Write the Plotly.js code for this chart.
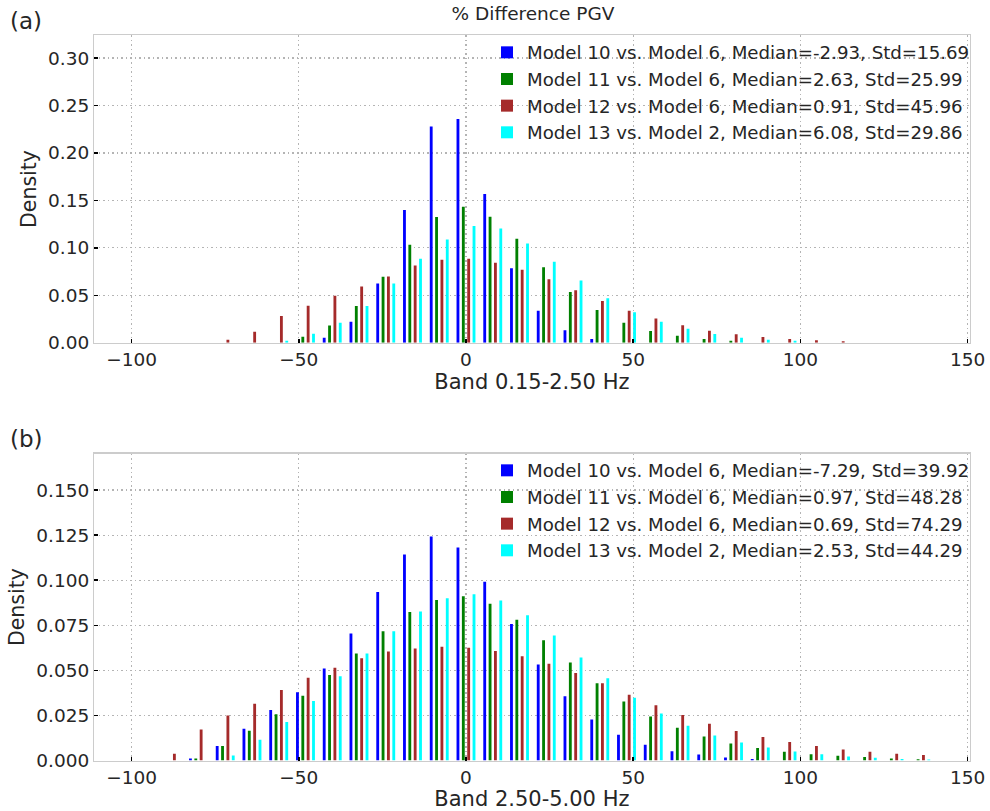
<!DOCTYPE html>
<html>
<head>
<meta charset="utf-8">
<script src="https://cdn.plot.ly/plotly-3.0.1.min.js"></script>
<style>
  html, body { margin: 0; padding: 0; background: #ffffff; }
  #chart { width: 990px; height: 811px; }
</style>
</head>
<body>
<div id="chart"></div>
<script>
// Histogram bin centres (% difference), bin width 8
const binCenters = [-96, -88, -80, -72, -64, -56, -48, -40, -32, -24, -16, -8, 0, 8, 16, 24,
                    32, 40, 48, 56, 64, 72, 80, 88, 96, 104, 112, 120, 128, 136, 144];

// Band 0.15-2.50 Hz densities
const lowM10 = [0, 0, 0, 0, 0, 0, 0, 0.0053, 0.0222, 0.0623, 0.1398, 0.2278, 0.2359, 0.1567, 0.0785, 0.0338,
                0.0130, 0.0039, 0, 0, 0, 0, 0, 0, 0, 0, 0, 0, 0, 0, 0];
const lowM11 = [0, 0, 0, 0, 0, 0, 0.0063, 0.0180, 0.0387, 0.0694, 0.1032, 0.1324, 0.1433, 0.1327, 0.1095, 0.0796,
                0.0535, 0.0345, 0.0211, 0.0123, 0.0074, 0.0039, 0.0020, 0, 0, 0, 0, 0, 0, 0, 0];
const lowM12 = [0, 0, 0, 0.0032, 0.0116, 0.0282, 0.0390, 0.0496, 0.0592, 0.0697, 0.0813, 0.0873, 0.0884, 0.0842, 0.0768, 0.0669,
                0.0553, 0.0440, 0.0338, 0.0254, 0.0183, 0.0127, 0.0088, 0.0060, 0.0039, 0.0025, 0.0014, 0, 0, 0, 0];
const lowM13 = [0, 0, 0, 0, 0, 0.0020, 0.0095, 0.0210, 0.0387, 0.0623, 0.0884, 0.1088, 0.1229, 0.1204, 0.1046, 0.0852,
                0.0655, 0.0468, 0.0320, 0.0222, 0.0148, 0.0092, 0.0053, 0.0032, 0.0020, 0, 0, 0, 0, 0, 0];

// Band 2.50-5.00 Hz densities
const highM10 = [0, 0, 0.0011, 0.0080, 0.0176, 0.0280, 0.0378, 0.0511, 0.0704, 0.0935, 0.1143, 0.1243, 0.1181, 0.0991, 0.0757, 0.0533,
                 0.0356, 0.0228, 0.0143, 0.0087, 0.0052, 0.0033, 0.0017, 0.0009, 0, 0, 0, 0, 0, 0, 0];
const highM11 = [0, 0, 0.0011, 0.0080, 0.0165, 0.0256, 0.0359, 0.0474, 0.0594, 0.0717, 0.0824, 0.0891, 0.0911, 0.0869, 0.0781, 0.0667,
                 0.0543, 0.0428, 0.0328, 0.0244, 0.0181, 0.0133, 0.0094, 0.0069, 0.0048, 0.0035, 0.0026, 0.0019, 0.0011, 0.0007, 0];
const highM12 = [0, 0.0037, 0.0172, 0.0250, 0.0315, 0.0391, 0.0459, 0.0515, 0.0567, 0.0604, 0.0622, 0.0631, 0.0626, 0.0607, 0.0578, 0.0537,
                 0.0485, 0.0428, 0.0365, 0.0306, 0.0252, 0.0204, 0.0163, 0.0130, 0.0102, 0.0080, 0.0061, 0.0048, 0.0037, 0.0030, 0];
const highM13 = [0, 0, 0, 0.0028, 0.0115, 0.0213, 0.0330, 0.0467, 0.0593, 0.0717, 0.0826, 0.0900, 0.0922, 0.0887, 0.0806, 0.0694,
                 0.0572, 0.0456, 0.0348, 0.0261, 0.0193, 0.0139, 0.0100, 0.0072, 0.0050, 0.0035, 0.0022, 0.0015, 0.0009, 0.0006, 0];

const lowLabels = [
  'Model 10 vs. Model 6, Median=-2.93, Std=15.69',
  'Model 11 vs. Model 6, Median=2.63, Std=25.99',
  'Model 12 vs. Model 6, Median=0.91, Std=45.96',
  'Model 13 vs. Model 2, Median=6.08, Std=29.86'
];
const highLabels = [
  'Model 10 vs. Model 6, Median=-7.29, Std=39.92',
  'Model 11 vs. Model 6, Median=0.97, Std=48.28',
  'Model 12 vs. Model 6, Median=0.69, Std=74.29',
  'Model 13 vs. Model 2, Median=2.53, Std=44.29'
];
const seriesColors = ['#0000ff', '#008000', '#a52a2a', '#00ffff'];

const FONT = 'DejaVu Sans, Liberation Sans, sans-serif';
const INK = '#262626';
const GRID = { showgrid: true, gridcolor: '#b4b4b4', gridwidth: 1.3, griddash: '1.5px,3px' };

// Thin bars centred in their group slots (slot = 1.6 units with bargap 0.2)
function panelTraces(series, labels, xa, ya, legendId) {
  return series.map((vals, i) => ({
    type: 'bar',
    x: binCenters,
    y: vals,
    width: 0.85,
    name: labels[i],
    xaxis: xa,
    yaxis: ya,
    legend: legendId,
    marker: { color: seriesColors[i], line: { width: 0 } },
    hoverinfo: 'skip'
  }));
}

const traces = [
  ...panelTraces([lowM10, lowM11, lowM12, lowM13], lowLabels, 'x', 'y', 'legend'),
  ...panelTraces([highM10, highM11, highM12, highM13], highLabels, 'x2', 'y2', 'legend2')
];

const xDomain = [94.3 / 990, 969.5 / 990];
const xRange = [-111.15, 150.57];

function xAxis(anchor, title) {
  return Object.assign({
    domain: xDomain, anchor: anchor, range: xRange,
    tick0: 0, dtick: 50,
    ticks: 'inside', ticklen: 4, tickwidth: 1.5, tickcolor: '#000000',
    tickfont: { family: FONT, size: 18.5, color: INK },
    zeroline: false,
    showline: true, mirror: true, linecolor: '#cccccc', linewidth: 1.3,
    title: { text: title, font: { family: FONT, size: 21, color: INK }, standoff: 2 }
  }, GRID);
}

function yAxis(anchor, domain, range, dtick, fmt) {
  return Object.assign({
    domain: domain, anchor: anchor, range: range,
    tick0: 0, dtick: dtick, tickformat: fmt,
    ticks: 'inside', ticklen: 4, tickwidth: 1.5, tickcolor: '#000000',
    tickfont: { family: FONT, size: 18.5, color: INK },
    zeroline: false,
    showline: true, mirror: true, linecolor: '#cccccc', linewidth: 1.3,
    title: { text: 'Density', font: { family: FONT, size: 20.5, color: INK }, standoff: 6 }
  }, GRID);
}

function legendBox(yTop) {
  return {
    x: 487 / 990, xanchor: 'left',
    y: yTop, yanchor: 'top',
    bgcolor: 'rgba(0,0,0,0)', borderwidth: 0,
    font: { family: FONT, size: 18.2, color: INK },
    itemclick: false, itemdoubleclick: false,
    traceorder: 'normal'
  };
}

const layout = {
  width: 990, height: 811,
  margin: { l: 0, r: 0, t: 0, b: 0 },
  paper_bgcolor: '#ffffff', plot_bgcolor: '#ffffff',
  font: { family: FONT, color: INK },
  barmode: 'group', bargap: 0.2, bargroupgap: 0,
  title: {
    text: '% Difference PGV',
    font: { family: FONT, size: 18.5, color: INK },
    x: 533 / 990, xanchor: 'center', xref: 'paper',
    y: 1 - 14 / 811, yanchor: 'middle', yref: 'paper'
  },
  xaxis: xAxis('y', 'Band 0.15-2.50 Hz'),
  yaxis: yAxis('x', [1 - 342.7 / 811, 1 - 35.3 / 811], [0, 0.324], 0.05, '.2f'),
  xaxis2: xAxis('y2', 'Band 2.50-5.00 Hz'),
  yaxis2: yAxis('x2', [1 - 760.5 / 811, 1 - 453.7 / 811], [0, 0.1702], 0.025, '.3f'),
  legend: legendBox(1 - 34 / 811),
  legend2: legendBox(1 - 452 / 811),
  showlegend: true,
  annotations: [
    { text: '(a)', xref: 'paper', yref: 'paper', x: 8 / 990, y: 1 - 21 / 811,
      xanchor: 'left', yanchor: 'middle', showarrow: false,
      font: { family: FONT, size: 23, color: INK } },
    { text: '(b)', xref: 'paper', yref: 'paper', x: 8 / 990, y: 1 - 439 / 811,
      xanchor: 'left', yanchor: 'middle', showarrow: false,
      font: { family: FONT, size: 23, color: INK } }
  ]
};

Plotly.newPlot('chart', traces, layout, { staticPlot: true, displayModeBar: false });
</script>
</body>
</html>
